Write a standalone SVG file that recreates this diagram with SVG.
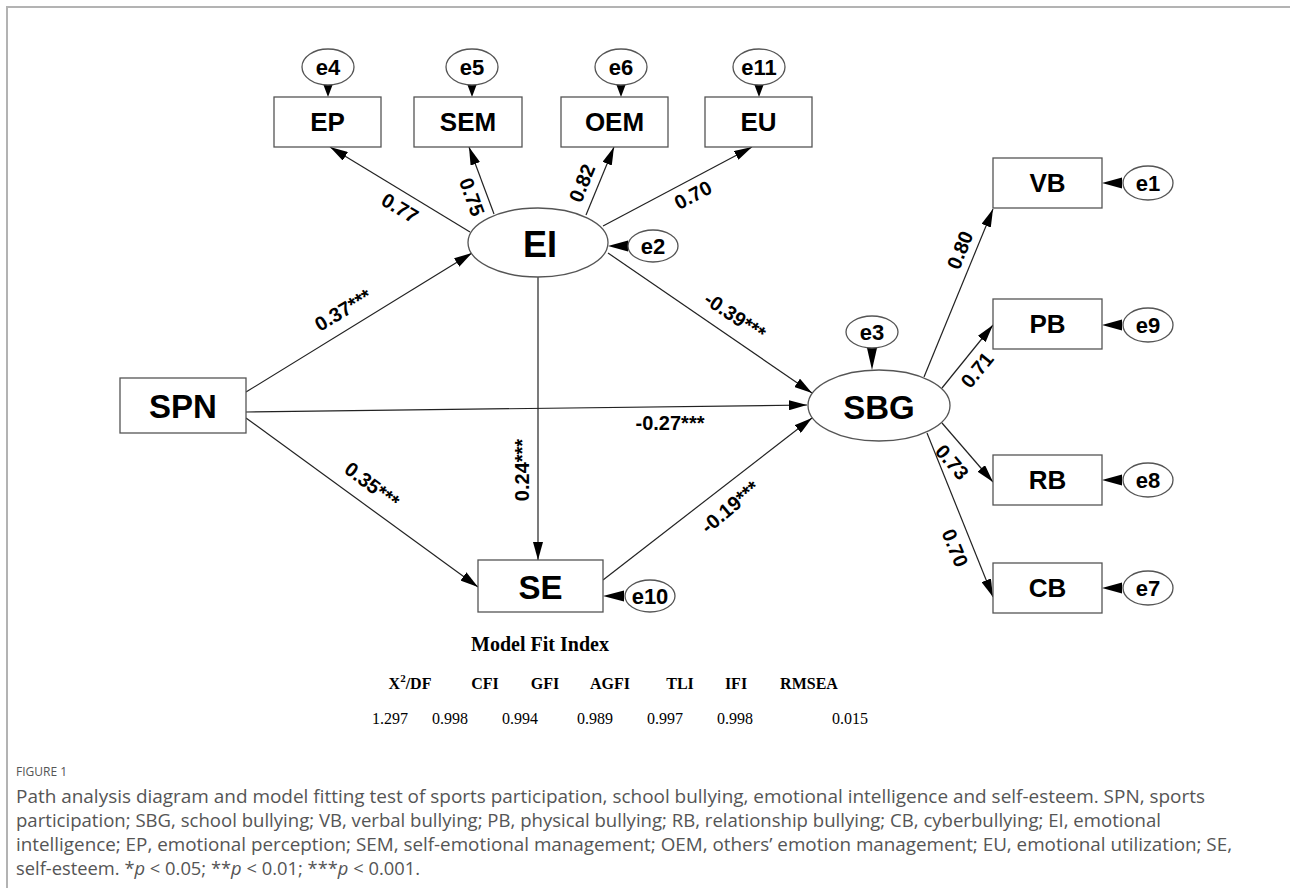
<svg xmlns="http://www.w3.org/2000/svg" width="1290" height="888" viewBox="0 0 1290 888">
<defs>
<marker id="ah" markerUnits="userSpaceOnUse" markerWidth="18" markerHeight="10" refX="18" refY="5" orient="auto">
<path d="M0,0 L18,5 L0,10 z" fill="#000"/>
</marker>
<style>
.box{fill:#fff;stroke:#555;stroke-width:1.3}
.ell{fill:#fff;stroke:#555;stroke-width:1.3}
.big{font-family:"Liberation Sans",Arial,sans-serif;font-weight:bold;font-size:33px;fill:#000;text-anchor:middle;dominant-baseline:central}
.mid{font-family:"Liberation Sans",Arial,sans-serif;font-weight:bold;font-size:26px;fill:#000;text-anchor:middle;dominant-baseline:central}
.err{font-family:"Liberation Sans",Arial,sans-serif;font-weight:bold;font-size:22px;fill:#000;text-anchor:middle;dominant-baseline:central}
.lab{font-family:"Liberation Sans",Arial,sans-serif;font-weight:bold;font-size:20px;fill:#000;text-anchor:middle;dominant-baseline:central}
.ln{stroke:#222;stroke-width:1.2;fill:none;marker-end:url(#ah)}
.tri{fill:#000}
.tt{font-family:"Liberation Serif","Times New Roman",serif;font-weight:bold;font-size:20px;fill:#000;text-anchor:middle}
.th{font-family:"Liberation Serif","Times New Roman",serif;font-weight:bold;font-size:16px;fill:#000;text-anchor:middle}
.tv{font-family:"Liberation Serif","Times New Roman",serif;font-size:16px;fill:#000;text-anchor:middle}
.cap{font-family:"Open Sans","Noto Sans",sans-serif;font-size:17.5px;fill:#555}
.fig{font-family:"Open Sans","Noto Sans",sans-serif;font-size:12px;fill:#555}
</style>
</defs>
<rect x="0" y="0" width="1290" height="888" fill="#fff"/>
<path d="M7,888 L7,7 L1290,7" fill="none" stroke="#b3b3b3" stroke-width="2"/>

<g id="connectors">
<line class="ln" x1="470" y1="232" x2="330" y2="147"/>
<line class="ln" x1="494" y1="214" x2="469" y2="147"/>
<line class="ln" x1="586" y1="215" x2="614" y2="147"/>
<line class="ln" x1="603" y1="226" x2="752" y2="147"/>
<line class="ln" x1="246" y1="392" x2="472" y2="253"/>
<line class="ln" x1="608" y1="253" x2="812" y2="393"/>
<line class="ln" x1="538" y1="277" x2="538" y2="560"/>
<line class="ln" x1="246" y1="412" x2="807" y2="405"/>
<line class="ln" x1="246" y1="418" x2="478" y2="587"/>
<line class="ln" x1="603" y1="580" x2="812" y2="418"/>
<line class="ln" x1="924" y1="377" x2="993" y2="209"/>
<line class="ln" x1="942" y1="388" x2="993" y2="325"/>
<line class="ln" x1="942" y1="423" x2="993" y2="482"/>
<line class="ln" x1="927" y1="433" x2="993" y2="597"/>
<!-- error term arrows -->
<polygon class="tri" points="323.5,85 332.5,85 328,97"/>
<polygon class="tri" points="467.5,85 476.5,85 472,97"/>
<polygon class="tri" points="616.5,85 625.5,85 621,97"/>
<polygon class="tri" points="754.5,85 763.5,85 759,97"/>
<polygon class="tri" points="628,240.5 628,251.5 608,246"/>
<polygon class="tri" points="1122,177.5 1122,188.5 1102,183"/>
<polygon class="tri" points="1122,319.5 1122,330.5 1102,325"/>
<polygon class="tri" points="1122,474.5 1122,485.5 1102,480"/>
<polygon class="tri" points="1122,582.5 1122,593.5 1102,588"/>
<polygon class="tri" points="867,348 877,348 872,370"/>
<polygon class="tri" points="624,590.5 624,601.5 603,596"/>
<!-- coefficient labels -->
<text class="lab" transform="translate(400,208) rotate(31)">0.77</text>
<text class="lab" transform="translate(472,197) rotate(70)">0.75</text>
<text class="lab" transform="translate(582,183) rotate(-68)">0.82</text>
<text class="lab" transform="translate(693,195) rotate(-28)">0.70</text>
<text class="lab" transform="translate(343,310) rotate(-31)">0.37***</text>
<text class="lab" transform="translate(735,316) rotate(34)">-0.39***</text>
<text class="lab" transform="translate(670,423)">-0.27***</text>
<text class="lab" transform="translate(522,470) rotate(-90)">0.24***</text>
<text class="lab" transform="translate(372,485) rotate(37)">0.35***</text>
<text class="lab" transform="translate(730,507) rotate(-40)">-0.19***</text>
<text class="lab" transform="translate(960,250) rotate(-68)">0.80</text>
<text class="lab" transform="translate(977,370) rotate(-51)">0.71</text>
<text class="lab" transform="translate(952,462) rotate(49)">0.73</text>
<text class="lab" transform="translate(955,548) rotate(68)">0.70</text>
</g>

<g id="e4"><ellipse class="ell" cx="328" cy="67" rx="26" ry="18"/><text class="err" x="328" y="67">e4</text></g>
<g id="e5"><ellipse class="ell" cx="472" cy="67" rx="26" ry="18"/><text class="err" x="472" y="67">e5</text></g>
<g id="e6"><ellipse class="ell" cx="621" cy="67" rx="26" ry="18"/><text class="err" x="621" y="67">e6</text></g>
<g id="e11"><ellipse class="ell" cx="759" cy="67" rx="26" ry="18"/><text class="err" x="759" y="67">e11</text></g>

<g id="EP"><rect class="box" x="274" y="97" width="107" height="50"/><text class="mid" x="327.5" y="122">EP</text></g>
<g id="SEM"><rect class="box" x="414" y="97" width="108" height="50"/><text class="mid" x="468" y="122">SEM</text></g>
<g id="OEM"><rect class="box" x="561" y="97" width="107" height="50"/><text class="mid" x="614.5" y="122">OEM</text></g>
<g id="EU"><rect class="box" x="705" y="97" width="107" height="50"/><text class="mid" x="758.5" y="122">EU</text></g>

<g id="EI"><ellipse class="ell" cx="538" cy="242.5" rx="70" ry="34.5"/><text class="big" x="540" y="244" style="font-size:36px">EI</text></g>
<g id="e2"><ellipse class="ell" cx="653" cy="246" rx="25" ry="16"/><text class="err" x="653" y="246">e2</text></g>

<g id="SPN"><rect class="box" x="120" y="378" width="126" height="55"/><text class="big" x="183" y="406">SPN</text></g>

<g id="SE"><rect class="box" x="478" y="560" width="125" height="52"/><text class="big" x="540.5" y="587">SE</text></g>
<g id="e10"><ellipse class="ell" cx="650" cy="596" rx="25" ry="16"/><text class="err" x="650" y="596">e10</text></g>

<g id="SBG"><ellipse class="ell" cx="879" cy="405.5" rx="71" ry="35.5"/><text class="big" x="879" y="407">SBG</text></g>
<g id="e3"><ellipse class="ell" cx="872" cy="332" rx="26" ry="16"/><text class="err" x="872" y="332">e3</text></g>

<g id="VB"><rect class="box" x="993" y="158" width="109" height="50"/><text class="mid" x="1047.5" y="183">VB</text></g>
<g id="PB"><rect class="box" x="993" y="299" width="109" height="50"/><text class="mid" x="1047.5" y="324">PB</text></g>
<g id="RB"><rect class="box" x="993" y="455" width="109" height="50"/><text class="mid" x="1047.5" y="480">RB</text></g>
<g id="CB"><rect class="box" x="993" y="563" width="109" height="50"/><text class="mid" x="1047.5" y="588">CB</text></g>
<g id="e1"><ellipse class="ell" cx="1148" cy="183" rx="25" ry="17"/><text class="err" x="1148" y="183">e1</text></g>
<g id="e9"><ellipse class="ell" cx="1148" cy="325" rx="25" ry="17"/><text class="err" x="1148" y="325">e9</text></g>
<g id="e8"><ellipse class="ell" cx="1148" cy="480" rx="25" ry="17"/><text class="err" x="1148" y="480">e8</text></g>
<g id="e7"><ellipse class="ell" cx="1148" cy="588" rx="25" ry="17"/><text class="err" x="1148" y="588">e7</text></g>

<g id="fit-table">
<text class="tt" x="540" y="651">Model Fit Index</text>
<text class="th" x="410" y="689">X<tspan font-size="11" dy="-7">2</tspan><tspan dy="7">/DF</tspan></text>
<text class="th" x="485" y="689">CFI</text>
<text class="th" x="545" y="689">GFI</text>
<text class="th" x="610" y="689">AGFI</text>
<text class="th" x="680" y="689">TLI</text>
<text class="th" x="736" y="689">IFI</text>
<text class="th" x="809" y="689">RMSEA</text>
<text class="tv" x="390" y="724">1.297</text>
<text class="tv" x="450" y="724">0.998</text>
<text class="tv" x="520" y="724">0.994</text>
<text class="tv" x="595" y="724">0.989</text>
<text class="tv" x="665" y="724">0.997</text>
<text class="tv" x="735" y="724">0.998</text>
<text class="tv" x="850" y="724">0.015</text>
</g>

<g id="caption">
<text class="fig" x="16" y="776">FIGURE 1</text>
<text class="cap" x="16" y="803" textLength="1189" lengthAdjust="spacingAndGlyphs">Path analysis diagram and model fitting test of sports participation, school bullying, emotional intelligence and self-esteem. SPN, sports</text>
<text class="cap" x="16" y="827" textLength="1145" lengthAdjust="spacingAndGlyphs">participation; SBG, school bullying; VB, verbal bullying; PB, physical bullying; RB, relationship bullying; CB, cyberbullying; EI, emotional</text>
<text class="cap" x="16" y="851" textLength="1216" lengthAdjust="spacingAndGlyphs">intelligence; EP, emotional perception; SEM, self-emotional management; OEM, others’ emotion management; EU, emotional utilization; SE,</text>
<text class="cap" x="16" y="875" textLength="404" lengthAdjust="spacingAndGlyphs">self-esteem. *<tspan font-style="italic">p</tspan> &lt; 0.05; **<tspan font-style="italic">p</tspan> &lt; 0.01; ***<tspan font-style="italic">p</tspan> &lt; 0.001.</text>
</g>
</svg>
